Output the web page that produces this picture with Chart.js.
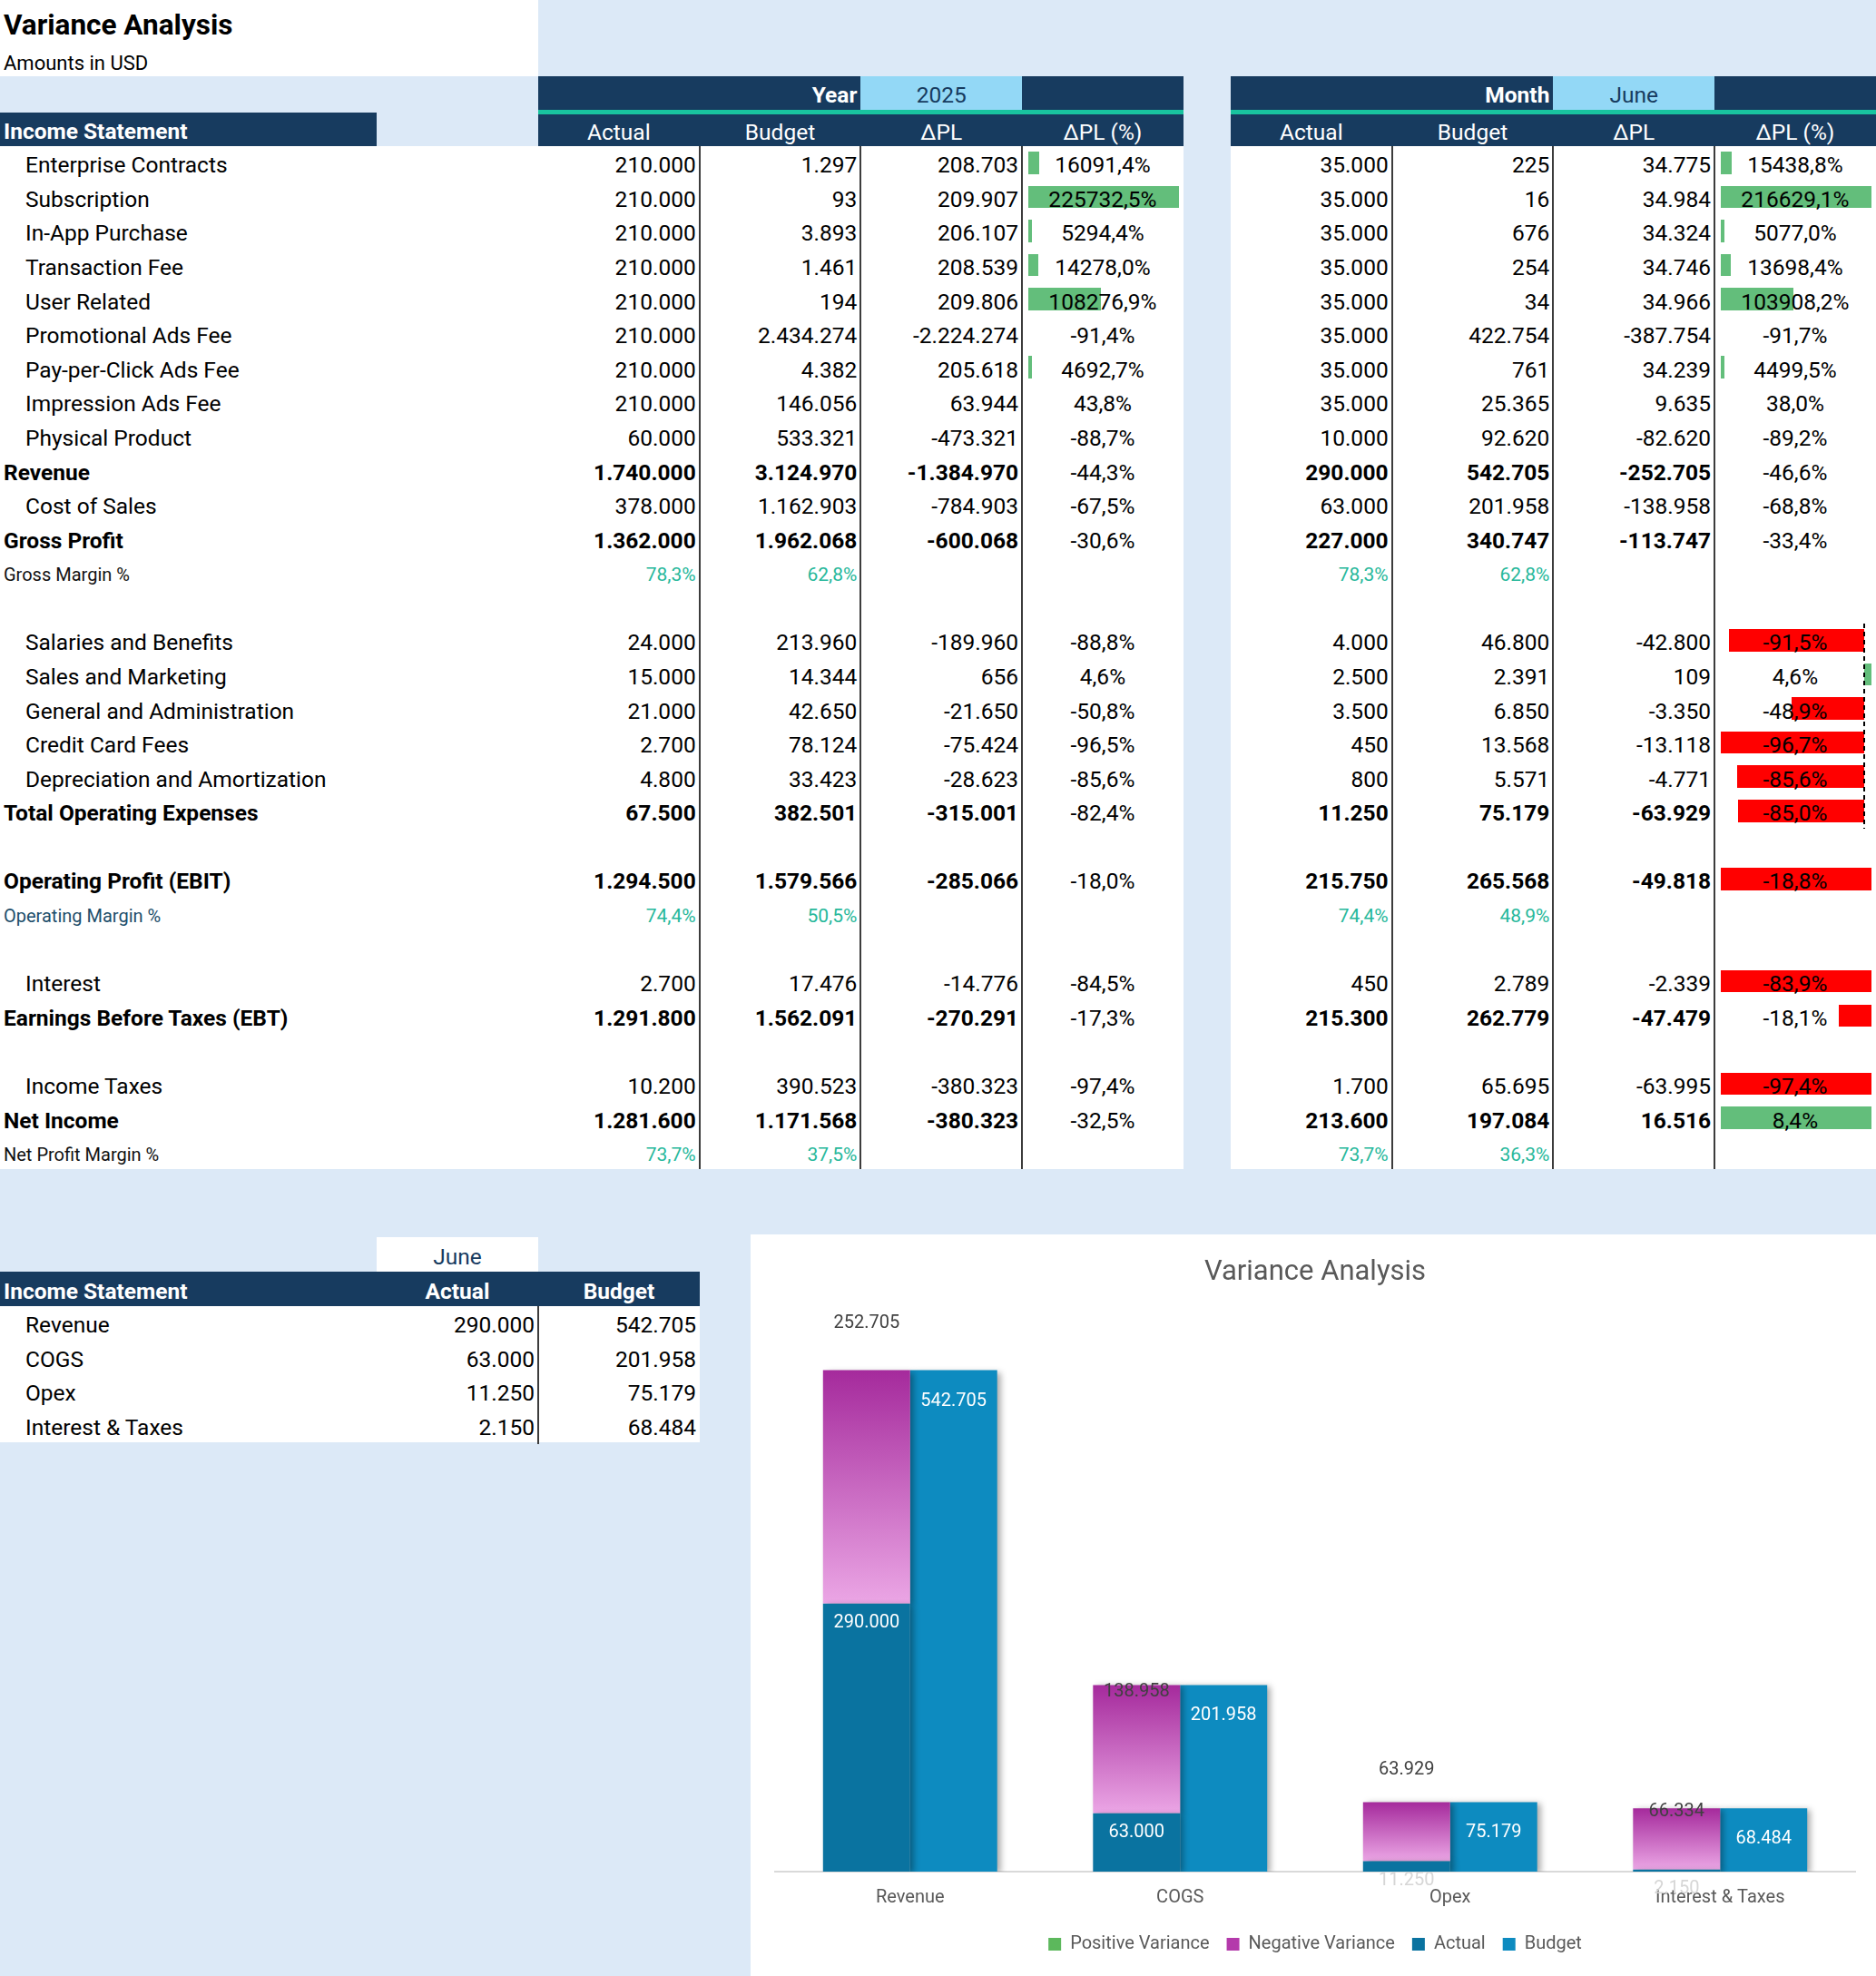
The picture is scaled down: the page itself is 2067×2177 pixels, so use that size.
<!DOCTYPE html>
<html>
<head>
<meta charset="utf-8">
<title>Variance Analysis</title>
<script src="https://cdn.jsdelivr.net/npm/chart.js@4.4.1/dist/chart.umd.min.js"></script>
<style>
  html, body { margin: 0; padding: 0; }
  body {
    width: 2067px;
    height: 2177px;
    position: relative;
    overflow: hidden;
    background: #dce9f7;
    font-family: Roboto, "Noto Sans", sans-serif;
    color: #000;
  }
  .c {
    position: absolute;
    display: flex;
    align-items: center;
    white-space: nowrap;
    box-sizing: border-box;
  }
  .t { padding-top: 4px; }
  #chart-box {
    position: absolute;
    left: 827px;
    top: 1360px;
    width: 1240px;
    height: 817px;
    background: #fff;
  }
</style>
</head>
<body>
<div id="sheet"></div>
<div id="chart-box"><canvas id="chart"></canvas></div>

<script>
// P&L rows (blank strings are spacer rows)
const plLabels = [
  "Enterprise Contracts", "Subscription", "In-App Purchase", "Transaction Fee", "User Related",
  "Promotional Ads Fee", "Pay-per-Click Ads Fee", "Impression Ads Fee", "Physical Product",
  "Revenue", "Cost of Sales", "Gross Profit", "Gross Margin %", "",
  "Salaries and Benefits", "Sales and Marketing", "General and Administration", "Credit Card Fees",
  "Depreciation and Amortization", "Total Operating Expenses", "",
  "Operating Profit (EBIT)", "Operating Margin %", "",
  "Interest", "Earnings Before Taxes (EBT)", "",
  "Income Taxes", "Net Income", "Net Profit Margin %"
];

// Year 2025
const yearActual = [210000, 210000, 210000, 210000, 210000, 210000, 210000, 210000, 60000,
  1740000, 378000, 1362000, 78.3, null, 24000, 15000, 21000, 2700, 4800, 67500, null,
  1294500, 74.4, null, 2700, 1291800, null, 10200, 1281600, 73.7];
const yearBudget = [1297, 93, 3893, 1461, 194, 2434274, 4382, 146056, 533321,
  3124970, 1162903, 1962068, 62.8, null, 213960, 14344, 42650, 78124, 33423, 382501, null,
  1579566, 50.5, null, 17476, 1562091, null, 390523, 1171568, 37.5];
const yearDelta = [208703, 209907, 206107, 208539, 209806, -2224274, 205618, 63944, -473321,
  -1384970, -784903, -600068, null, null, -189960, 656, -21650, -75424, -28623, -315001, null,
  -285066, null, null, -14776, -270291, null, -380323, -380323, null];
const yearDeltaPct = [16091.4, 225732.5, 5294.4, 14278.0, 108276.9, -91.4, 4692.7, 43.8, -88.7,
  -44.3, -67.5, -30.6, null, null, -88.8, 4.6, -50.8, -96.5, -85.6, -82.4, null,
  -18.0, null, null, -84.5, -17.3, null, -97.4, -32.5, null];

// Month June
const monthActual = [35000, 35000, 35000, 35000, 35000, 35000, 35000, 35000, 10000,
  290000, 63000, 227000, 78.3, null, 4000, 2500, 3500, 450, 800, 11250, null,
  215750, 74.4, null, 450, 215300, null, 1700, 213600, 73.7];
const monthBudget = [225, 16, 676, 254, 34, 422754, 761, 25365, 92620,
  542705, 201958, 340747, 62.8, null, 46800, 2391, 6850, 13568, 5571, 75179, null,
  265568, 48.9, null, 2789, 262779, null, 65695, 197084, 36.3];
const monthDelta = [34775, 34984, 34324, 34746, 34966, -387754, 34239, 9635, -82620,
  -252705, -138958, -113747, null, null, -42800, 109, -3350, -13118, -4771, -63929, null,
  -49818, null, null, -2339, -47479, null, -63995, 16516, null];
const monthDeltaPct = [15438.8, 216629.1, 5077.0, 13698.4, 103908.2, -91.7, 4499.5, 38.0, -89.2,
  -46.6, -68.8, -33.4, null, null, -91.5, 4.6, -48.9, -96.7, -85.6, -85.0, null,
  -18.8, null, null, -83.9, -18.1, null, -97.4, 8.4, null];

// Chart / summary table (June)
const chartCategories = ["Revenue", "COGS", "Opex", "Interest & Taxes"];
const chartActual = [290000, 63000, 11250, 2150];
const chartBudget = [542705, 201958, 75179, 68484];
const chartNegVariance = [252705, 138958, 63929, 66334];
const chartPosVariance = [0, 0, 0, 0];

// data bar rule ranges (row index from..to) in the ΔPL (%) columns
const yearBarGroups = [[0, 8]];
const monthBarGroups = [[0, 8], [14, 19], [21, 21], [24, 25], [27, 27], [28, 28]];

// ---------- layout ----------
const LIGHT = "#dce9f7";
const NAVY = "#173b5f";
const CYAN = "#93d8f6";
const TEAL = "#19c39f";
const ROW_H = 37.58;
const BODY_TOP = 161;
const COL_W = 177.7;
const YEAR_X = 593;
const MONTH_X = 1356;
const FS = "font-size:24.5px;";

const totalRows = ["Revenue", "Gross Profit", "Total Operating Expenses", "Operating Profit (EBIT)",
  "Earnings Before Taxes (EBT)", "Net Income"];

const sheet = document.getElementById("sheet");

function box(x, y, w, h, css) {
  const d = document.createElement("div");
  d.className = "c";
  d.style.cssText += `left:${x}px;top:${y}px;width:${w}px;height:${h}px;${css || ""}`;
  sheet.appendChild(d);
  return d;
}

function text(x, y, w, h, str, css) {
  const d = box(x, y, w, h, css);
  d.classList.add("t");
  d.textContent = str;
  return d;
}

function fmtNum(v) {
  return v.toLocaleString("de-DE", { maximumFractionDigits: 0 });
}

function fmtPct(v) {
  return v.toFixed(1).replace(".", ",") + "%";
}

// backgrounds
box(0, 0, 593, 84, "background:#fff");
box(YEAR_X, 84, COL_W * 4, 37, `background:${NAVY}`);
box(MONTH_X, 84, COL_W * 4, 37, `background:${NAVY}`);
box(YEAR_X + COL_W * 2, 84, COL_W, 37, `background:${CYAN}`);
box(MONTH_X + COL_W * 2, 84, COL_W, 37, `background:${CYAN}`);
box(YEAR_X, 121, COL_W * 4, 5, `background:${TEAL}`);
box(MONTH_X, 121, COL_W * 4, 5, `background:${TEAL}`);
box(0, 124, 415, 37, `background:${NAVY}`);
box(YEAR_X, 126, COL_W * 4, 35, `background:${NAVY}`);
box(MONTH_X, 126, COL_W * 4, 35, `background:${NAVY}`);
const bodyH = ROW_H * plLabels.length;
box(0, BODY_TOP, YEAR_X + COL_W * 4, bodyH, "background:#fff");
box(MONTH_X, BODY_TOP, COL_W * 4, bodyH, "background:#fff");

// title
text(4, 0, 580, 50, "Variance Analysis", "font-size:31.5px;font-weight:700;");
text(4, 50, 580, 34, "Amounts in USD", "font-size:22px;");

// period row
text(YEAR_X + COL_W, 84, COL_W - 4, 37, "Year", `justify-content:flex-end;color:#fff;font-weight:700;${FS}`);
text(YEAR_X + COL_W * 2, 84, COL_W, 37, "2025", `justify-content:center;color:${NAVY};${FS}`);
text(MONTH_X + COL_W, 84, COL_W - 4, 37, "Month", `justify-content:flex-end;color:#fff;font-weight:700;${FS}`);
text(MONTH_X + COL_W * 2, 84, COL_W, 37, "June", `justify-content:center;color:${NAVY};${FS}`);

// header row
text(4, 124, 410, 37, "Income Statement", `color:#fff;font-weight:700;${FS}`);
const headers = ["Actual", "Budget", "\u0394PL", "\u0394PL (%)"];
headers.forEach((h, i) => {
  text(YEAR_X + COL_W * i, 126, COL_W, 35, h, `justify-content:center;color:#fff;${FS}`);
  text(MONTH_X + COL_W * i, 126, COL_W, 35, h, `justify-content:center;color:#fff;${FS}`);
});

// data bars
function drawDataBars(groups, values, cellX) {
  const innerX = cellX + 7;
  const innerW = COL_W - 12;
  groups.forEach(([from, to]) => {
    const vals = values.slice(from, to + 1);
    const min = Math.min(0, ...vals);
    const max = Math.max(0, ...vals);
    const range = max - min;
    const axisFrac = -min / range;
    const axisX = innerX + innerW * axisFrac;
    vals.forEach((v, k) => {
      const r = from + k;
      const y = BODY_TOP + r * ROW_H + 6;
      const len = innerW * Math.abs(v) / range;
      if (len < 0.5) return;
      if (v >= 0) box(axisX, y, len, ROW_H - 13, "background:#63be7b");
      else box(axisX - len, y, len, ROW_H - 13, "background:#ff0000");
    });
    if (axisFrac > 0.02 && axisFrac < 0.98) {
      box(axisX - 1, BODY_TOP + from * ROW_H, 2, ROW_H * (to - from + 1),
        "background:repeating-linear-gradient(to bottom,#000 0,#000 5px,transparent 5px,transparent 9px)");
    }
  });
}
drawDataBars(yearBarGroups, yearDeltaPct, YEAR_X + COL_W * 3);
drawDataBars(monthBarGroups, monthDeltaPct, MONTH_X + COL_W * 3);

// body rows
plLabels.forEach((label, r) => {
  if (!label) return;
  const y = BODY_TOP + r * ROW_H;
  const isTotal = totalRows.includes(label);
  const isMargin = label.endsWith("%");
  if (isMargin) {
    const labelColor = label.startsWith("Operating") ? "#1d4e6b" : "#111";
    text(4, y, 560, ROW_H, label, `font-size:20px;color:${labelColor};`);
  } else if (isTotal) {
    text(4, y, 560, ROW_H, label, `${FS}font-weight:700;`);
  } else {
    text(28, y, 560, ROW_H, label, FS);
  }

  const blocks = [
    [YEAR_X, yearActual, yearBudget, yearDelta, yearDeltaPct],
    [MONTH_X, monthActual, monthBudget, monthDelta, monthDeltaPct]
  ];
  blocks.forEach(([x0, act, bud, dl, pct]) => {
    if (isMargin) {
      const mcss = "justify-content:flex-end;font-size:21px;color:#27b89b;";
      text(x0, y, COL_W - 4, ROW_H, fmtPct(act[r]), mcss);
      text(x0 + COL_W, y, COL_W - 4, ROW_H, fmtPct(bud[r]), mcss);
      return;
    }
    const weight = isTotal ? "font-weight:700;" : "";
    const ncss = `justify-content:flex-end;${FS}${weight}`;
    text(x0, y, COL_W - 4, ROW_H, fmtNum(act[r]), ncss);
    text(x0 + COL_W, y, COL_W - 4, ROW_H, fmtNum(bud[r]), ncss);
    text(x0 + COL_W * 2, y, COL_W - 4, ROW_H, fmtNum(dl[r]), ncss);
    text(x0 + COL_W * 3, y, COL_W, ROW_H, fmtPct(pct[r]), `justify-content:center;${FS}`);
  });
});

// column separators
[1, 2, 3].forEach((i) => {
  box(YEAR_X + COL_W * i - 1, BODY_TOP, 2, bodyH, "background:#3c3c3c");
  box(MONTH_X + COL_W * i - 1, BODY_TOP, 2, bodyH, "background:#3c3c3c");
});

// summary table (June)
const SUM_TOP = 1363;
box(415, SUM_TOP, 178, 38, "background:#fff");
text(415, SUM_TOP, 178, 38, "June", `justify-content:center;${FS}color:${NAVY};`);
box(0, SUM_TOP + 38, 771, 38, `background:${NAVY}`);
text(4, SUM_TOP + 38, 400, 38, "Income Statement", `color:#fff;font-weight:700;${FS}`);
text(415, SUM_TOP + 38, 178, 38, "Actual", `justify-content:center;color:#fff;font-weight:700;${FS}`);
text(593, SUM_TOP + 38, 178, 38, "Budget", `justify-content:center;color:#fff;font-weight:700;${FS}`);
box(0, SUM_TOP + 76, 771, ROW_H * chartCategories.length, "background:#fff");
chartCategories.forEach((cat, i) => {
  const y = SUM_TOP + 76 + i * ROW_H;
  text(28, y, 380, ROW_H, cat, FS);
  text(415, y, 174, ROW_H, fmtNum(chartActual[i]), `justify-content:flex-end;${FS}`);
  text(593, y, 174, ROW_H, fmtNum(chartBudget[i]), `justify-content:flex-end;${FS}`);
});
box(592, SUM_TOP + 76, 2, ROW_H * chartCategories.length + 2, "background:#3c3c3c");

// ---------- chart ----------
function gradientFill(top, bottom, solid) {
  return (ctx) => {
    const chart = ctx.chart;
    if (!chart.chartArea || ctx.type !== "data") return solid;
    const y = chart.scales.y;
    const base = chartActual[ctx.dataIndex];
    const yTop = y.getPixelForValue(base + (ctx.raw || 0));
    const yBottom = y.getPixelForValue(base);
    if (!(yBottom - yTop > 0)) return solid;
    const g = chart.ctx.createLinearGradient(0, yTop, 0, yBottom);
    g.addColorStop(0, top);
    g.addColorStop(1, bottom);
    return g;
  };
}

const legendRank = [2, 1, 0, 3];
const legendColors = ["#0a73a0", "#b43aab", "#5cb85c", "#0d8bc0"];
const varianceLabelShift = [-52, 8, -35, 4];

const barShadow = {
  id: "barShadow",
  beforeDatasetsDraw(chart) {
    const c = chart.ctx;
    c.save();
    c.shadowColor = "rgba(0,0,0,0.35)";
    c.shadowBlur = 7;
    c.shadowOffsetX = 4;
    c.shadowOffsetY = 2;
  },
  afterDatasetsDraw(chart) {
    chart.ctx.restore();
  }
};

const barLabels = {
  id: "barLabels",
  afterDraw(chart) {
    const c = chart.ctx;
    const actualMeta = chart.getDatasetMeta(0);
    const varMeta = chart.getDatasetMeta(1);
    const budgetMeta = chart.getDatasetMeta(3);
    c.save();
    c.font = "20px Roboto";
    c.textAlign = "center";
    c.textBaseline = "middle";
    chartCategories.forEach((_, i) => {
      const a = actualMeta.data[i];
      c.fillStyle = a.base - a.y > 40 ? "#ffffff" : "#d6d6d6";
      c.fillText(fmtNum(chartActual[i]), a.x, a.y + 21);
      const b = budgetMeta.data[i];
      c.fillStyle = "#ffffff";
      c.fillText(fmtNum(chartBudget[i]), b.x, b.y + 34);
      const v = varMeta.data[i];
      c.fillStyle = "#404040";
      c.fillText(fmtNum(chartNegVariance[i]), v.x, v.y + varianceLabelShift[i]);
    });
    c.restore();
  }
};

new Chart(document.getElementById("chart"), {
  type: "bar",
  data: {
    labels: chartCategories,
    datasets: [
      {
        label: "Actual",
        data: chartActual,
        stack: "actual",
        backgroundColor: "#0a73a0"
      },
      {
        label: "Negative Variance",
        data: chartNegVariance,
        stack: "actual",
        backgroundColor: gradientFill("#a52a9c", "#eba6e5", "#b43aab")
      },
      {
        label: "Positive Variance",
        data: chartPosVariance,
        stack: "actual",
        backgroundColor: gradientFill("#3f9e3a", "#9ad98f", "#5cb85c")
      },
      {
        label: "Budget",
        data: chartBudget,
        stack: "budget",
        backgroundColor: "#0d8bc0"
      }
    ]
  },
  options: {
    responsive: true,
    maintainAspectRatio: false,
    animation: false,
    barPercentage: 1,
    categoryPercentage: 0.645,
    layout: { padding: { left: 27, right: 23, bottom: 15 } },
    plugins: {
      title: {
        display: true,
        text: "Variance Analysis",
        color: "#595959",
        font: { family: "Roboto", size: 31, weight: "normal" },
        padding: { top: 24, bottom: 30 }
      },
      legend: {
        position: "bottom",
        labels: {
          color: "#595959",
          font: { family: "Roboto", size: 20 },
          boxWidth: 14,
          boxHeight: 14,
          padding: 19,
          sort: (a, b) => legendRank[a.datasetIndex] - legendRank[b.datasetIndex],
          generateLabels(chart) {
            const items = Chart.defaults.plugins.legend.labels.generateLabels(chart);
            items.forEach((it) => {
              it.fillStyle = legendColors[it.datasetIndex];
              it.strokeStyle = legendColors[it.datasetIndex];
              it.lineWidth = 0;
            });
            return items;
          }
        }
      },
      tooltip: { enabled: false }
    },
    scales: {
      x: {
        stacked: true,
        grid: { display: false, drawTicks: false },
        border: { display: true, color: "#d9d9d9", width: 2 },
        ticks: { color: "#595959", font: { family: "Roboto", size: 20 }, padding: 17 },
        afterFit(scale) {
          scale.height -= 7;
        }
      },
      y: {
        stacked: true,
        display: false,
        min: 0,
        max: 600000
      }
    }
  },
  plugins: [barShadow, barLabels]
});
</script>
</body>
</html>
